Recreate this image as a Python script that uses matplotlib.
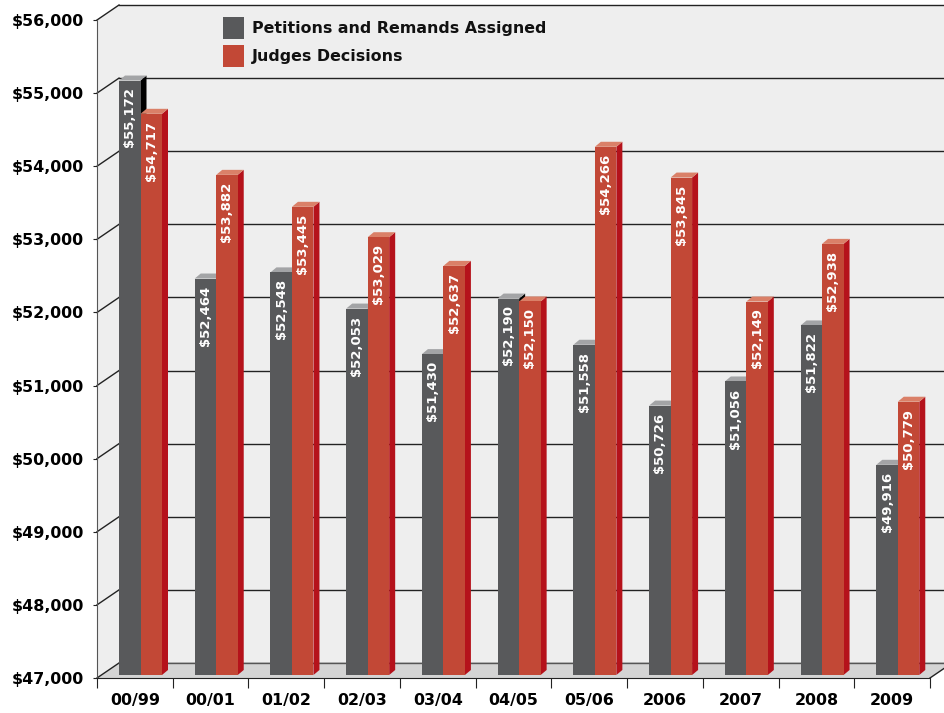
import matplotlib
matplotlib.use("Agg")
import matplotlib.pyplot as plt
from matplotlib.patches import Polygon, Rectangle
from matplotlib.ticker import FuncFormatter

categories = ["00/99", "00/01", "01/02", "02/03", "03/04", "04/05",
              "05/06", "2006", "2007", "2008", "2009"]
petitions = [55172, 52464, 52548, 52053, 51430, 52190,
             51558, 50726, 51056, 51822, 49916]
decisions = [54717, 53882, 53445, 53029, 52637, 52150,
             54266, 53845, 52149, 52938, 50779]
series_names = ["Petitions and Remands Assigned", "Judges Decisions"]
yticks = list(range(47000, 56001, 1000))

# face colours: front, top, side
GRAY = ("#58595b", "#a3a4a6", "#000000")
RED = ("#c24836", "#da8068", "#b5121b")

plt.rcParams["font.family"] = "DejaVu Sans"
plt.rcParams["font.weight"] = "bold"

W, H = 945, 713
fig = plt.figure(figsize=(W / 100, H / 100), dpi=100)
fig.patch.set_facecolor("white")

# front plane of the box, in pixels
left, right, top, bottom = 97, 930, 20, 678
ax = fig.add_axes([left / W, 1 - bottom / H, (right - left) / W, (bottom - top) / H])
ymin, ymax = yticks[0], yticks[-1]
n = len(categories)
ax.set_xlim(0, n)
ax.set_ylim(ymin, ymax)
ax.patch.set_visible(False)

ux = n / (right - left)
uy = (ymax - ymin) / (bottom - top)
DX, DY = 22 * ux, 15 * uy      # box depth
BX, BY = 6 * ux, 5 * uy        # bar depth
bw = 21.5 * ux
base = ymin + 3 * uy

# walls and floor
back = Polygon([(DX, ymin + DY), (n + DX + 1, ymin + DY), (n + DX + 1, ymax + DY), (DX, ymax + DY)],
               closed=True, facecolor="#eeeeee", edgecolor="none", zorder=0.5, clip_on=False)
side = Polygon([(0, ymin), (DX, ymin + DY), (DX, ymax + DY), (0, ymax)],
               closed=True, facecolor="#eeeeee", edgecolor="none", zorder=0.5, clip_on=False)
floor = Polygon([(0, ymin), (n, ymin), (n + DX, ymin + DY), (DX, ymin + DY)],
                closed=True, facecolor="#d4d4d4", edgecolor="none", zorder=0.7, clip_on=False)
for p in (back, side, floor):
    ax.add_patch(p)

for v in yticks:
    ax.plot([DX, n + DX + 1], [v + DY, v + DY], color="#222222", lw=1, zorder=0.6, clip_on=False)
    ax.plot([0, DX], [v, v + DY], color="#222222", lw=1, zorder=0.8, clip_on=False)
ax.plot([DX, n + DX + 1], [ymin + DY, ymin + DY], color="#555555", lw=1, zorder=0.8, clip_on=False)
ax.plot([n, n + DX], [ymin, ymin + DY], color="#222222", lw=1, zorder=0.8, clip_on=False)


def bar3d(x0, v, colors, z):
    front, topc, sidec = colors
    ax.add_patch(Polygon([(x0 + bw, base), (x0 + bw + BX, base + BY), (x0 + bw + BX, v + BY), (x0 + bw, v)],
                         closed=True, facecolor=sidec, edgecolor="none", zorder=z, clip_on=False))
    ax.add_patch(Polygon([(x0, v), (x0 + bw, v), (x0 + bw + BX, v + BY), (x0 + BX, v + BY)],
                         closed=True, facecolor=topc, edgecolor="none", zorder=z, clip_on=False))
    ax.add_patch(Rectangle((x0, base), bw, v - base, facecolor=front, edgecolor="none",
                           zorder=z, clip_on=False))
    ax.annotate("${:,}".format(v), (x0 + bw / 2, v), xytext=(0, -5), textcoords="offset points",
                rotation=90, ha="center", va="top", color="white", fontsize=9.5,
                fontweight="bold", zorder=5)


for i in range(n):
    gx = i + 22 * ux
    bar3d(gx, petitions[i], GRAY, 1 + i * 0.01)
    bar3d(gx + bw, decisions[i], RED, 1.005 + i * 0.01)

# axes lines and ticks
for s in ("top", "right"):
    ax.spines[s].set_visible(False)
ax.spines["left"].set_color("#555555")
ax.spines["bottom"].set_color("#222222")

ax.set_yticks(yticks)
ax.yaxis.set_major_formatter(FuncFormatter(lambda v, p: "${:,}".format(int(v))))
ax.tick_params(axis="y", length=3, pad=6.5, labelsize=11.4, color="#222222")

ax.set_xticks(range(n + 1))
ax.set_xticklabels([])
ax.set_xticks([i + 0.5 for i in range(n)], minor=True)
ax.set_xticklabels(categories, minor=True)
ax.tick_params(axis="x", which="major", length=7, color="#222222")
ax.tick_params(axis="x", which="minor", length=0, pad=11, labelsize=11.4)

# legend
for k, (name, c) in enumerate(zip(series_names, (GRAY[0], RED[0]))):
    ytop = 17 + k * 28
    fig.add_artist(Rectangle((223 / W, 1 - (ytop + 22) / H), 21 / W, 22 / H,
                             transform=fig.transFigure, facecolor=c, edgecolor="none"))
    fig.text(252 / W, 1 - (ytop + 11) / H, name, va="center", ha="left",
             fontsize=11.4, fontweight="bold", color="#111111")

fig.savefig("out.png", dpi=100)
